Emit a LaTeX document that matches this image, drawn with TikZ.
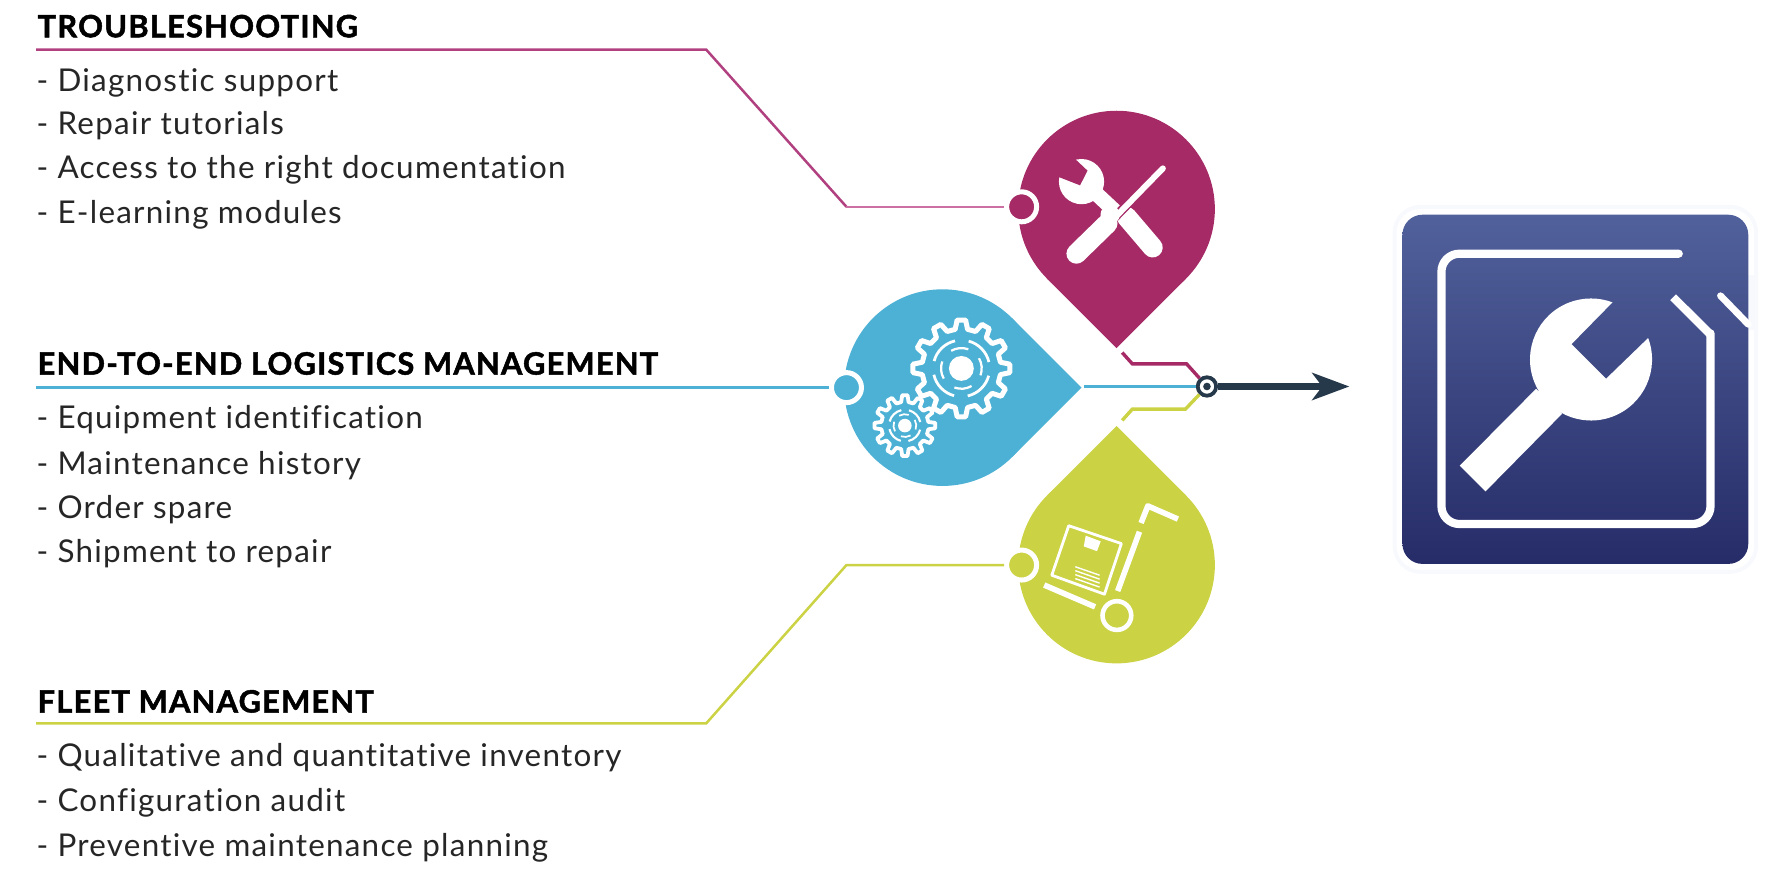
\documentclass[tikz,border=0pt]{standalone}
\usepackage{fontspec}
\setmainfont[LetterSpace=4,RawFeature={-liga;-dlig},BoldFeatures={FakeBold=1.6}]{Lato}
\usepackage{tikz}
\usetikzlibrary{arrows.meta}
\definecolor{magentadrop}{HTML}{A52A66}
\definecolor{magentaline}{HTML}{B0407F}
\definecolor{magentapale}{HTML}{CC6FA3}
\definecolor{bluedrop}{HTML}{4DB1D5}
\definecolor{yellowdrop}{HTML}{CBD243}
\definecolor{darkhub}{HTML}{25394A}
\definecolor{icontop}{HTML}{51619B}
\definecolor{iconbottom}{HTML}{262C68}
\definecolor{halo}{HTML}{F7F9FD}
\def\ux{0.56505pt}
\begin{document}
\begin{tikzpicture}
[x=0.56505pt,y=-0.56505pt,
  linedecorate/.style={-,line width=1.25pt},%
  stubdecorate/.style={-,line width=1.7pt},%
  ringdecorate/.style={shape=circle,inner sep=0pt,minimum size=15pt,draw=white,line width=2.5pt},%
  headdecorate/.style={anchor=base west,inner sep=0pt,font=\fontsize{15.4pt}{18pt}\selectfont\bfseries},%
  listdecorate/.style={anchor=base west,inner sep=0pt,font=\fontsize{15.7pt}{18pt}\selectfont,text=black!85},%
  iconline/.style={draw=white,line width=2.8pt,line cap=round,line join=round},%
  thinicon/.style={draw=white,line width=1.4pt,line cap=round,line join=round}]
\useasboundingbox (0,0) rectangle (1568,775.1);
%% texts
\node (headT) at (33,33) [headdecorate] {TROUBLESHOOTING};
\node (headB) at (33,331.5) [headdecorate] {END-TO-END LOGISTICS MANAGEMENT};
\node (headF) at (33,630.5) [headdecorate] {FLEET MANAGEMENT};
\foreach \listname/\y/\listtext in {a/81/Diagnostic support, b/119/Repair tutorials,
  c/158/Access to the right documentation, d/198/E-learning modules,
  e/379/Equipment identification, f/420/Maintenance history, g/459/Order spare,
  h/498/Shipment to repair, i/678/Qualitative and quantitative inventory,
  j/718/Configuration audit, k/758/Preventive maintenance planning}
{
  \node (list\listname) at (32,\y) [listdecorate] {- \listtext};
}
%% drops
\foreach \x/\y/\rot/\col in {988/185/0/magentadrop, 834/343/90/bluedrop, 988/500/180/yellowdrop}
{
  \begin{scope}[shift={(\x,\y)},rotate=\rot]
    \fill[\col] (0,0) circle (87);
    \fill[\col] (0,123) -- (61.5,61.5) -- (-61.5,61.5) -- cycle;
  \end{scope}
}
%% rings and hub
\node (ringT) at (904,183) [ringdecorate,fill=magentadrop] {};
\node (ringB) at (749,343) [ringdecorate,fill=bluedrop] {};
\node (ringF) at (904,500) [ringdecorate,fill=yellowdrop] {};
\coordinate (startT) at (32,44);
\coordinate (startB) at (32,343);
\coordinate (startF) at (32,640);
\coordinate (tipT) at (993,312);
\coordinate (tipB) at (959,342);
\coordinate (tipF) at (993,372);
\coordinate (endarrow) at (1194,342);
%% edges or lines
\draw[linedecorate,magentaline] (startT) -- (625,44) -- (749,183);
\draw[linedecorate,magentapale] (749,183) -- (ringT);
\draw[linedecorate,bluedrop] (startB) -- (ringB);
\draw[linedecorate,yellowdrop] (startF) -- (625,640) -- (749,500) -- (ringF);
\node (hub) at (1068,342) [shape=circle,inner sep=0pt,minimum size=9.2pt,draw=darkhub,line width=1.9pt,fill=white] {};
\draw[stubdecorate,magentadrop] (tipT) -- (1002,322) -- (1050,322) -- (hub);
\draw[stubdecorate,bluedrop] (tipB) -- (hub);
\draw[stubdecorate,yellowdrop] (tipF) -- (1002,362) -- (1049,362) -- (hub);
\draw[line width=3.6pt,darkhub,-{Stealth[length=18.5pt,width=13.5pt,inset=5pt]}] (hub) -- (endarrow);
\node (hubdot) at (hub) [shape=circle,inner sep=0pt,minimum size=3.8pt,fill=darkhub] {};
%% tools in the first drop
\draw[white,line width=10pt,line cap=round] (997,192) -- (1020,219);
\draw[white,line width=7.5pt] (959,161) -- (990,190);
\fill[white] (957,160.7) circle (20);
\fill[magentadrop] (940,130) -- (925,152) -- (955.7,164) -- (962.3,151) -- cycle;
\draw[magentadrop,line width=4.6pt] (1012,166) -- (976,203);
\draw[white,line width=3pt,line cap=round] (1029,149) -- (987,192);
\fill[white] (982.3,190) circle (8.5);
\draw[white,line width=10pt,line cap=round] (980,197.7) -- (952.5,224.5);
%% gears
\foreach \x/\y/\ro/\ri/\rc/\rr/\wd in {850.7/326/43/35/11/25/2.5, 800.7/376.6/27/21/6/14/1.9}
{
  \begin{scope}[shift={(\x,\y)}]
    \draw[white,line width=\wd pt,line join=round] (-9:\ri)
      \foreach \a in {0,30,...,330} { -- (\a-9:\ri) -- (\a-5:\ro) -- (\a+5:\ro) -- (\a+9:\ri) } -- cycle;
    \fill[white] (0,0) circle (\rc);
    \foreach \s in {15,105,195,285}
    {
      \draw[white,line width=\wd pt*0.55] (\s:\rr) arc[start angle=-\s,delta angle=-62,radius=\rr*\ux];
      \draw[white,line width=\wd pt*0.45] (\s+45:\rr*0.72) arc[start angle=-\s-45,delta angle=-50,radius=\rr*0.72*\ux];
    }
  \end{scope}
}
%% trolley
\draw[thinicon] (945.7,465.2) -- (992.3,481) -- (977.3,525.8) -- (930.7,509) -- cycle;
\fill[white] (960.7,474) -- (974,479) -- (970.7,487.7) -- (959,483.5) -- cycle;
\foreach \d in {0,3.5,7,10.5}
  \draw[white,line width=0.7pt] (951.5,501.5+\d) -- (973,509+\d);
\draw[white,line width=2.8pt] (1008.3,470.5) -- (989,523);
\draw[iconline,line cap=butt] (1009.7,462.8) -- (1015.7,447.7) -- (1042.3,459.3);
\draw[white,line width=2.8pt] (924,517.7) -- (969,537);
\draw[white,line width=2.3pt] (988.3,544.7) circle (12.7);
%% right icon
\draw[halo,line width=2pt,rounded corners=13pt] (1234,183) rectangle (1554,506);
\fill[halo] (1547,243) rectangle (1553,292);
\shade[top color=icontop,bottom color=iconbottom,rounded corners=10pt] (1241,190) rectangle (1547,499);
\draw[white,line width=4.1pt,line cap=round,line join=round,rounded corners=9pt]
  (1485.5,224.5) -- (1275.5,224.5) -- (1275.5,463.7) -- (1513.6,463.7) -- (1513.6,295);
\draw[white,line width=4.1pt] (1513.6,296) -- (1480.5,263);
\draw[white,line width=3.4pt,line cap=round] (1522.4,261.7) -- (1547,287);
\fill[white] (1458.4,299.1) arc[start angle=20.6,end angle=-290.6,radius=54*\ux]
  -- (1390.6,304.5) -- (1421.2,335.1) -- cycle;
\fill[white] (1359.3,344) -- (1291.7,412.1) -- (1314.5,434.8) -- (1382.3,366.1) -- cycle;
\end{tikzpicture}
\end{document}
